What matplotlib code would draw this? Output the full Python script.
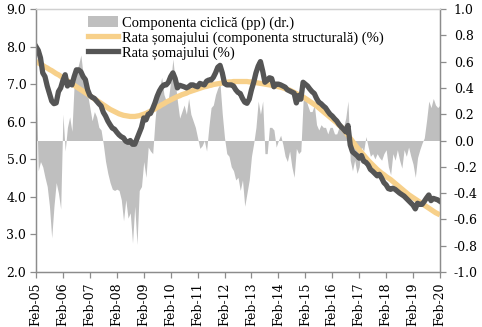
import matplotlib
matplotlib.use("Agg")
import matplotlib.pyplot as plt
import numpy as np
from matplotlib.patches import Patch
from matplotlib.lines import Line2D

plt.rcParams["font.family"] = ["DejaVu Serif"]

tick_labels = ["Feb-05", "Feb-06", "Feb-07", "Feb-08", "Feb-09", "Feb-10", "Feb-11", "Feb-12",
               "Feb-13", "Feb-14", "Feb-15", "Feb-16", "Feb-17", "Feb-18", "Feb-19", "Feb-20"]

# monthly, Feb-05 .. Feb-20
rata = [8.0, 7.9, 7.7, 7.3, 7.2, 6.95, 6.75, 6.55, 6.48, 6.5, 6.8, 6.9,
        7.1, 7.25, 6.95, 7.05, 6.98, 7.2, 7.38, 7.38, 7.33, 7.2, 7.12, 6.85,
        6.7, 6.65, 6.62, 6.55, 6.48, 6.42, 6.25, 6.15, 6.02, 5.92, 5.83, 5.8,
        5.72, 5.65, 5.6, 5.57, 5.48, 5.45, 5.5, 5.4, 5.4, 5.55, 5.7, 5.85,
        6.1, 6.05, 6.2, 6.22, 6.35, 6.5, 6.68, 6.82, 6.92, 6.98, 6.98, 7.05,
        7.2, 7.3, 7.15, 6.9, 6.97, 6.95, 6.93, 6.9, 6.93, 6.98, 6.98, 6.95,
        6.93, 7.02, 7.0, 6.98, 7.08, 7.11, 7.11, 7.18, 7.3, 7.45, 7.5, 7.3,
        7.02, 6.98, 6.98, 6.98, 6.95, 6.85, 6.78, 6.75, 6.62, 6.52, 6.49, 6.6,
        6.85, 7.05, 7.3, 7.48, 7.6, 7.35, 7.05, 7.1, 7.17, 7.15, 6.93, 7.0,
        7.0, 6.98, 6.95, 6.92, 6.85, 6.82, 6.79, 6.76, 6.5, 6.7, 6.6, 7.05,
        7.0, 6.95, 6.87, 6.8, 6.75, 6.62, 6.52, 6.48, 6.42, 6.37, 6.28, 6.2,
        6.15, 6.08, 6.02, 5.93, 5.86, 5.8, 5.73, 5.9, 5.38, 5.2, 5.15, 5.1,
        5.03, 5.1, 4.95, 4.92, 4.85, 4.73, 4.68, 4.62, 4.56, 4.6, 4.5, 4.38,
        4.32, 4.22, 4.2, 4.23, 4.2, 4.15, 4.1, 4.06, 4.02, 3.96, 3.9, 3.84,
        3.78, 3.68, 3.83, 3.8, 3.8, 3.88, 3.97, 4.05, 3.9, 3.96, 3.94, 3.92,
        3.88]

structural = [7.60, 7.57, 7.53, 7.50, 7.46, 7.43, 7.39, 7.36, 7.32, 7.28, 7.25, 7.21,
              7.17, 7.13, 7.09, 7.05, 7.01, 6.97, 6.93, 6.89, 6.85, 6.81, 6.77, 6.73,
              6.69, 6.65, 6.61, 6.57, 6.53, 6.49, 6.45, 6.41, 6.37, 6.33, 6.30, 6.27,
              6.24, 6.21, 6.19, 6.17, 6.16, 6.15, 6.14, 6.14, 6.14, 6.15, 6.16, 6.18,
              6.20, 6.22, 6.25, 6.28, 6.31, 6.34, 6.38, 6.41, 6.45, 6.48, 6.52, 6.55,
              6.58, 6.61, 6.64, 6.67, 6.69, 6.72, 6.74, 6.76, 6.79, 6.81, 6.83, 6.85,
              6.87, 6.89, 6.91, 6.93, 6.94, 6.96, 6.97, 6.99, 7.00, 7.01, 7.02, 7.03,
              7.04, 7.05, 7.06, 7.06, 7.07, 7.07, 7.07, 7.07, 7.07, 7.07, 7.07, 7.06,
              7.06, 7.05, 7.04, 7.03, 7.02, 7.01, 7.00, 6.99, 6.98, 6.97, 6.96, 6.95,
              6.93, 6.92, 6.90, 6.88, 6.86, 6.84, 6.81, 6.78, 6.75, 6.72, 6.69, 6.66,
              6.62, 6.58, 6.54, 6.50, 6.46, 6.42, 6.37, 6.32, 6.27, 6.22, 6.17, 6.12,
              6.07, 6.02, 5.97, 5.91, 5.86, 5.80, 5.72, 5.64, 5.56, 5.48, 5.40, 5.32,
              5.25, 5.18, 5.11, 5.04, 4.97, 4.91, 4.85, 4.79, 4.73, 4.68, 4.63, 4.59,
              4.54, 4.50, 4.46, 4.41, 4.36, 4.31, 4.26, 4.21, 4.16, 4.11, 4.06, 4.02,
              3.98, 3.94, 3.90, 3.86, 3.82, 3.78, 3.74, 3.70, 3.66, 3.62, 3.58, 3.55,
              3.52]

ciclica = [0.45, -0.23, -0.16, -0.2, -0.28, -0.35, -0.5, -0.74, -0.5, -0.32, -0.4, -0.52,
           0.2, -0.08, 0.1, 0.18, 0.07, 0.43, 0.52, 0.58, 0.65, 0.5, 0.45, 0.35,
           0.25, 0.15, 0.22, 0.18, 0.1, 0.08, -0.03, -0.16, -0.25, -0.32, -0.37, -0.38,
           -0.37, -0.38, -0.45, -0.61, -0.45, -0.59, -0.55, -0.78, -0.5, -0.79, -0.38, -0.35,
           -0.16, -0.28, -0.05, -0.08, -0.1, 0.15, 0.33, 0.4, 0.48, 0.35, 0.3, 0.32,
           0.45, 0.62, 0.45, 0.3, 0.17, 0.22, 0.27, 0.2, 0.32, 0.2, 0.15, 0.1,
           0.02, -0.06, -0.04, 0.0, -0.08, 0.1, 0.25, 0.27, 0.35, 0.4, 0.43, 0.2,
           0.02, -0.1, -0.12, -0.2, -0.23, -0.3, -0.28, -0.38, -0.3, -0.5, -0.4, -0.3,
           -0.12, -0.02, 0.1, 0.3, 0.2, 0.3, -0.1, -0.1, 0.1, 0.1, 0.08, -0.05,
           0.0, 0.04, -0.03, -0.12, -0.16, -0.08, -0.2, -0.28, -0.06, -0.1, -0.08, 0.3,
           0.33, 0.27, 0.22, 0.22, 0.27, 0.12, 0.08, 0.12, 0.1, 0.1, 0.05, 0.1,
           0.1, 0.05, 0.05, 0.1, 0.08, 0.1, 0.17, 0.3, -0.15, -0.23, -0.15, -0.25,
           -0.2, -0.05, -0.08, 0.03, -0.05, -0.12, -0.1, -0.14, -0.1, -0.13, -0.15, -0.1,
           -0.07, -0.2, -0.26, -0.1, -0.15, -0.07, -0.15, -0.21, -0.07, -0.12, -0.05, -0.12,
           -0.18, -0.28, -0.13, -0.07, -0.02, 0.02, 0.15, 0.3, 0.25, 0.32, 0.27, 0.25,
           0.27]

labels = ["Componenta ciclică (pp) (dr.)",
          "Rata șomajului (componenta structurală) (%)",
          "Rata șomajului (%)"]

grey = "#BFBFBF"
orange = "#F7D08A"
dark = "#555555"
spine_c = "#8C8C8C"

x = np.arange(len(rata))
tick_pos = np.arange(len(tick_labels)) * 12

fig = plt.figure(figsize=(4.82, 3.27), dpi=100)
ax = fig.add_axes([36 / 482, 1 - 272 / 327, (440 - 36) / 482, (272 - 9) / 327])
ax2 = ax.twinx()

ax2.fill_between(x, 0, ciclica, color=grey, linewidth=0)
ax2.set_ylim(-1.0, 1.0)
rt = np.arange(-1.0, 1.01, 0.2)
ax2.set_yticks(rt)
ax2.set_yticklabels([f"{v:.1f}" if abs(v) > 1e-9 else "0.0" for v in rt])

ax.plot(x, structural, color=orange, lw=3.8, solid_capstyle="butt")
ax.plot(x, rata, color=dark, lw=3.8, solid_joinstyle="round")
ax.set_ylim(2.0, 9.0)
lt = np.arange(2.0, 9.01, 1.0)
ax.set_yticks(lt)
ax.set_yticklabels([f"{v:.1f}" for v in lt])
ax.set_xlim(0, len(rata) - 1)
ax.set_xticks(tick_pos)
ax.set_xticklabels(tick_labels, rotation=90)

ax.set_zorder(ax2.get_zorder() + 1)
ax.patch.set_visible(False)

for a in (ax, ax2):
    for s in a.spines.values():
        s.set_color(spine_c)
        s.set_linewidth(0.9)
    a.tick_params(colors=spine_c, length=4, width=0.9, labelcolor="black", labelsize=9)
ax.spines["top"].set_color("#D0D0D0")
ax2.spines["top"].set_color("#D0D0D0")
ax.tick_params(axis="y", pad=3)
ax2.tick_params(axis="y", pad=6)

handles = [Patch(facecolor=grey, edgecolor="none"),
           Line2D([], [], color=orange, lw=3.8),
           Line2D([], [], color=dark, lw=3.8)]
leg = ax.legend(handles, labels, loc="upper left", bbox_to_anchor=(0.11, 1.0),
                frameon=False, prop={"family": "Liberation Serif", "size": 10.5},
                handlelength=2.1, handletextpad=0.25, labelspacing=0.1,
                borderaxespad=0.1)

fig.savefig("out.png", dpi=100, facecolor="white")
